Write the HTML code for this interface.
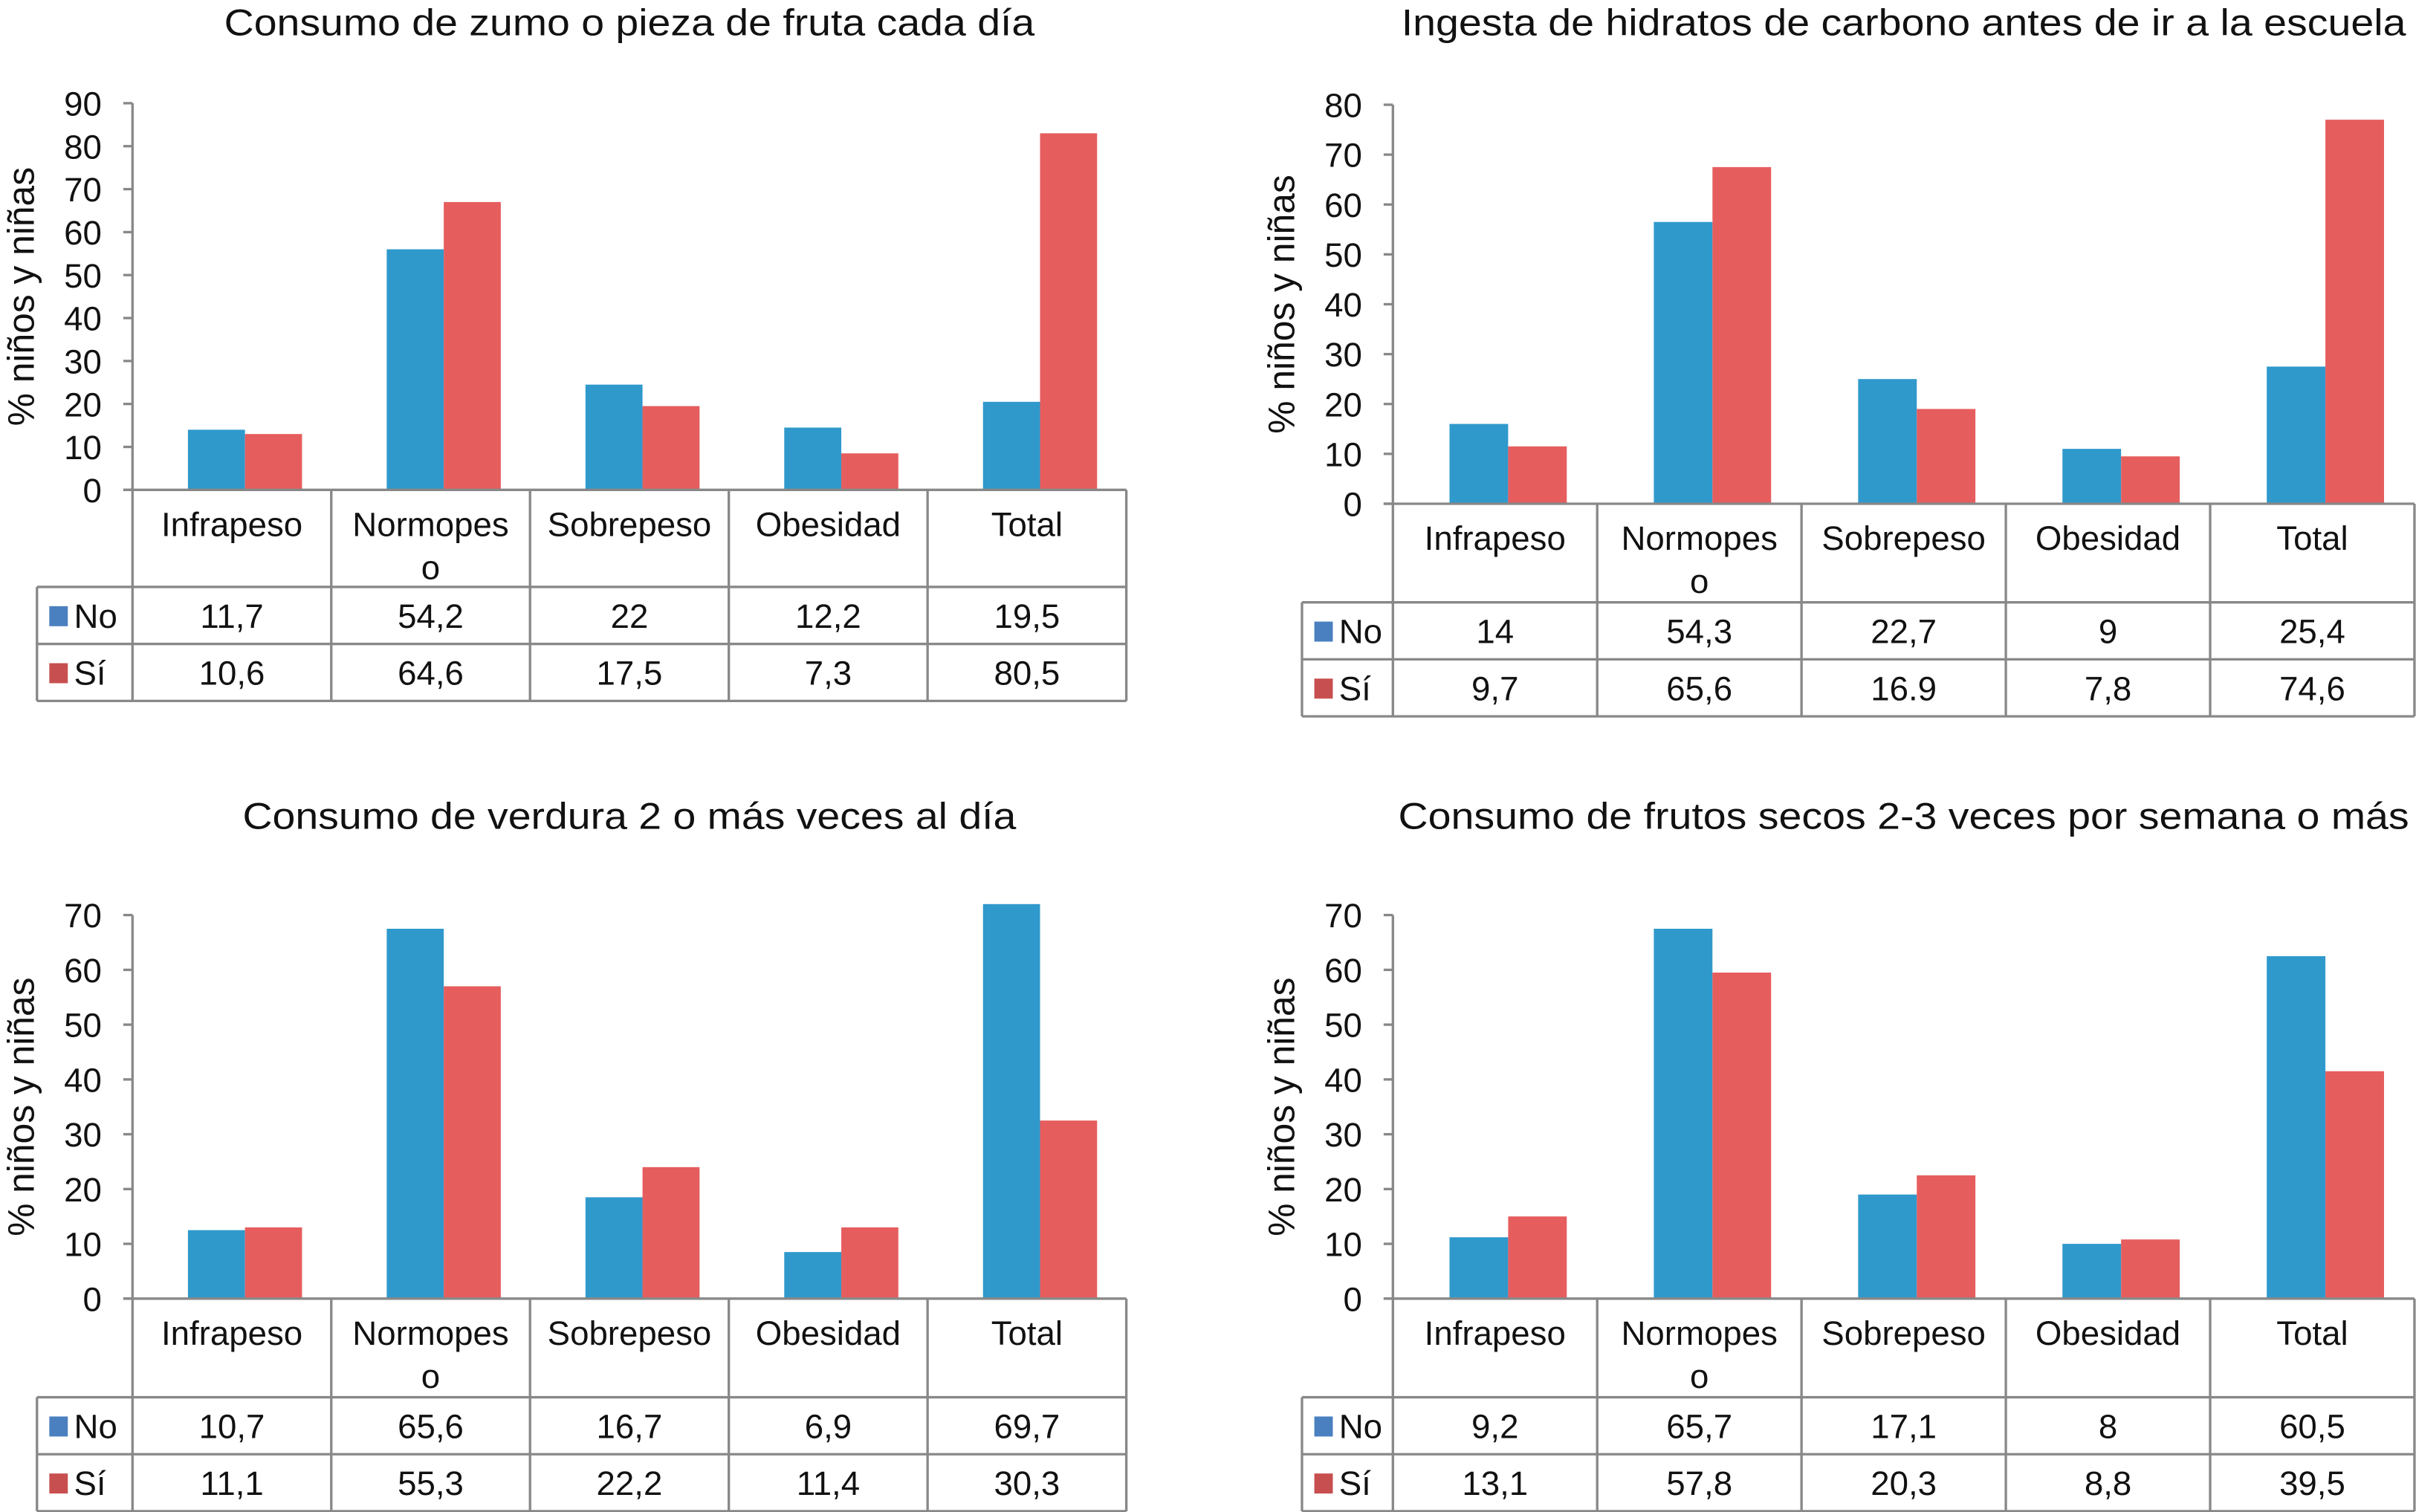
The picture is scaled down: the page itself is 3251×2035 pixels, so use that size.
<!DOCTYPE html>
<html><head><meta charset="utf-8"><style>
html,body{margin:0;padding:0;background:#fff;}
svg{display:block;}
text{font-family:"Liberation Sans",sans-serif;fill:#111;}
</style></head><body>
<svg id="fig" width="3251" height="2035" viewBox="0 0 1568 981.5" preserveAspectRatio="none" xmlns="http://www.w3.org/2000/svg"></svg>
<script>
// Categories and series
const categories = ["Infrapeso", "Normopeso", "Sobrepeso", "Obesidad", "Total"];
const titles = ["Consumo de zumo o pieza de fruta cada día", "Ingesta de hidratos de carbono antes de ir a la escuela", "Consumo de verdura 2 o más veces al día", "Consumo de frutos secos 2-3 veces por semana o más"];
const yMaxes = [90, 80, 70, 70];
// Bar heights as drawn in the picture
const barsNo1 = [14, 56, 24.5, 14.5, 20.5];
const barsSi1 = [13, 67, 19.5, 8.5, 83];
const barsNo2 = [16, 56.5, 25, 11, 27.5];
const barsSi2 = [11.5, 67.5, 19, 9.5, 77];
const barsNo3 = [12.5, 67.5, 18.5, 8.5, 72];
const barsSi3 = [13, 57, 24, 13, 32.5];
const barsNo4 = [11.2, 67.5, 19, 10, 62.5];
const barsSi4 = [15, 59.5, 22.5, 10.8, 41.5];
// Printed table values
const tableNo1 = ["11,7", "54,2", "22", "12,2", "19,5"];
const tableSi1 = ["10,6", "64,6", "17,5", "7,3", "80,5"];
const tableNo2 = ["14", "54,3", "22,7", "9", "25,4"];
const tableSi2 = ["9,7", "65,6", "16.9", "7,8", "74,6"];
const tableNo3 = ["10,7", "65,6", "16,7", "6,9", "69,7"];
const tableSi3 = ["11,1", "55,3", "22,2", "11,4", "30,3"];
const tableNo4 = ["9,2", "65,7", "17,1", "8", "60,5"];
const tableSi4 = ["13,1", "57,8", "20,3", "8,8", "39,5"];

const NS = "http://www.w3.org/2000/svg";
const svg = document.getElementById("fig");
function mk(tag, attrs, parent, txt) {
  const e = document.createElementNS(NS, tag);
  for (const k in attrs) e.setAttribute(k, attrs[k]);
  if (txt !== undefined) e.textContent = txt;
  (parent || svg).appendChild(e);
  return e;
}
const BLUE = "#2f99cc", RED = "#e65d5e", GRID = "#888";

const layouts = [
  {ax: 86, y0: 318, yTop: 67, rows: [381, 418, 455], leg: 24, right: 731, titleY: 23, titleW: 526},
  {ax: 904, y0: 327, yTop: 68, rows: [391, 428, 465], leg: 845, right: 1567, titleY: 23, titleW: 652},
  {ax: 86, y0: 843, yTop: 594, rows: [907, 944, 981], leg: 24, right: 731, titleY: 538, titleW: 502},
  {ax: 904, y0: 843, yTop: 594, rows: [907, 944, 981], leg: 845, right: 1567, titleY: 538, titleW: 656}
];
const barsNo = [barsNo1, barsNo2, barsNo3, barsNo4];
const barsSi = [barsSi1, barsSi2, barsSi3, barsSi4];
const tabNo = [tableNo1, tableNo2, tableNo3, tableNo4];
const tabSi = [tableSi1, tableSi2, tableSi3, tableSi4];

layouts.forEach((L, ci) => {
  const g = mk("g", {});
  
  
  const yMax = yMaxes[ci];
  const yScale = v => L.y0 - (L.y0 - L.yTop) * v / yMax;
  const colW = (L.right - L.ax) / categories.length;
  const xCol = i => L.ax + i * colW;
  const cx = (L.ax + L.right) / 2;

  const t = mk("text", {x: cx, y: L.titleY, "text-anchor": "middle", "font-size": 24, textLength: L.titleW, lengthAdjust: "spacingAndGlyphs"}, g, titles[ci]);
  
  

  const yl = mk("text", {x: 0, y: 0, "text-anchor": "middle", "font-size": 24, transform: `translate(${L.ax - 64},${(L.y0 + L.yTop) / 2}) rotate(-90)`}, g, "% niños y niñas");
  
  

  // bars
  categories.forEach((c, i) => {
    const center = xCol(i) + colW / 2;
    const bw = colW * 0.287;
    const b1 = mk("rect", {x: center - bw + 8.5 - 0, y: yScale(barsNo[ci][i]), width: bw, height: L.y0 - yScale(barsNo[ci][i]), fill: BLUE}, g);
    
    
    const b2 = mk("rect", {x: center + 8.5, y: yScale(barsSi[ci][i]), width: bw, height: L.y0 - yScale(barsSi[ci][i]), fill: RED}, g);
    
    
  });

  // y axis
  mk("line", {x1: L.ax, y1: L.yTop, x2: L.ax, y2: L.y0, stroke: GRID, "stroke-width": 1.6}, g);
  for (let v = 0; v <= yMax; v += 10) {
    const y = yScale(v);
    mk("line", {x1: L.ax - 6, y1: y, x2: L.ax, y2: y, stroke: GRID, "stroke-width": 1.6}, g);
    const tk = mk("text", {x: L.ax - 20, y: y + 8, "text-anchor": "end", "font-size": 22}, g, String(v));
    
    
  }

  // table grid
  const tb = mk("g", {fill: "none", stroke: GRID, "stroke-width": 1.6}, g);
  
  
  mk("line", {x1: L.ax - 6, y1: L.y0, x2: L.right, y2: L.y0}, tb);
  mk("line", {x1: L.leg, y1: L.rows[0], x2: L.right, y2: L.rows[0]}, tb);
  mk("line", {x1: L.leg, y1: L.rows[1], x2: L.right, y2: L.rows[1]}, tb);
  mk("line", {x1: L.leg, y1: L.rows[2], x2: L.right, y2: L.rows[2]}, tb);
  mk("line", {x1: L.leg, y1: L.rows[0], x2: L.leg, y2: L.rows[2]}, tb);
  for (let i = 0; i <= categories.length; i++) mk("line", {x1: xCol(i), y1: L.y0, x2: xCol(i), y2: L.rows[2]}, tb);

  categories.forEach((c, i) => {
    const center = xCol(i) + colW / 2;
    if (c === "Normopeso") {
      const h1 = mk("text", {x: center, y: L.y0 + 30, "text-anchor": "middle", "font-size": 22}, g, "Normopes");
      
      
      mk("text", {x: center, y: L.y0 + 58, "text-anchor": "middle", "font-size": 22}, g, "o");
    } else {
      const h = mk("text", {x: center, y: L.y0 + 30, "text-anchor": "middle", "font-size": 22}, g, c);
      
      
    }
    const r1 = (L.rows[0] + L.rows[1]) / 2 + 8, r2 = (L.rows[1] + L.rows[2]) / 2 + 8;
    const v1 = mk("text", {x: center, y: r1, "text-anchor": "middle", "font-size": 22}, g, tabNo[ci][i]);
    
    
    const v2 = mk("text", {x: center, y: r2, "text-anchor": "middle", "font-size": 22}, g, tabSi[ci][i]);
    
    
  });
  // legend keys
  const r1 = (L.rows[0] + L.rows[1]) / 2, r2 = (L.rows[1] + L.rows[2]) / 2;
  const k1 = mk("rect", {x: L.leg + 8, y: r1 - 6, width: 12, height: 13, fill: "#4a80c0"}, g);
  
  
  const l1 = mk("text", {x: L.leg + 24, y: r1 + 8, "font-size": 22}, g, "No");
  
  
  const k2 = mk("rect", {x: L.leg + 8, y: r2 - 6, width: 12, height: 13, fill: "#c84f4f"}, g);
  
  
  const l2 = mk("text", {x: L.leg + 24, y: r2 + 8, "font-size": 22}, g, "Sí");
  
  
});
</script>
</body></html>
